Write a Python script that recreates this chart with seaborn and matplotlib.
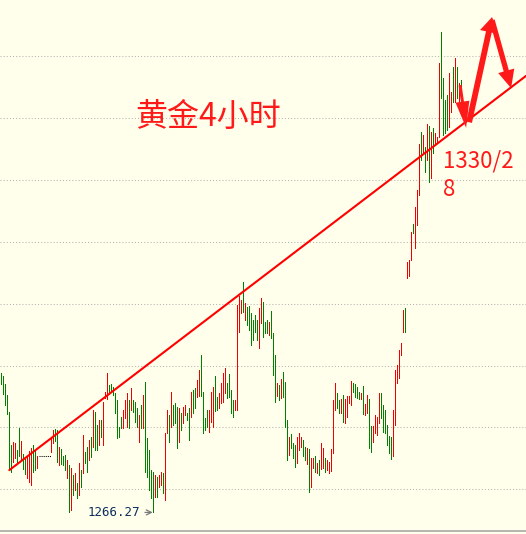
import numpy as np
import pandas as pd
import seaborn as sns
import matplotlib.pyplot as plt

# 4h gold bars (USD). nan = the gap marked by the dotted line
highs = [1288.8, 1288.3, 1287.0, 1285.2, 1282.5, 1277.2, 1277.6, 1277.5, 1276.3, 1279.9,
         1277.8, 1275.7, 1275.2, 1275.4, 1276.2, 1276.7, 1277.2, 1276.3, 1275.4, np.nan,
         np.nan, np.nan, np.nan, np.nan, np.nan, 1278.3, 1279.6, 1279.7, 1279.6, 1276.8,
         1276.5, 1275.4, 1275.5, 1274.7, 1273.9, 1273.5, 1272.3, 1272.6, 1271.0, 1274.3,
         1273.1, 1278.8, 1276.0, 1276.8, 1278.0, 1278.5, 1282.8, 1282.5, 1280.4, 1281.2,
         1281.2, 1284.1, 1285.7, 1288.8, 1286.8, 1287.0, 1286.5, 1285.5, 1284.4, 1280.1,
         1281.7, 1282.8, 1284.4, 1285.5, 1284.4, 1286.3, 1284.4, 1284.1, 1283.1, 1282.0,
         1283.6, 1285.2, 1287.3, 1278.3, 1276.3, 1273.1, 1272.8, 1272.3, 1272.0, 1272.3,
         1272.8, 1272.6, 1279.1, 1282.8, 1282.0, 1285.7, 1283.6, 1283.9, 1283.3, 1283.1,
         1282.3, 1283.3, 1283.6, 1282.3, 1283.1, 1285.7, 1286.0, 1286.3, 1287.7, 1289.3,
         1291.7, 1285.7, 1281.5, 1282.8, 1282.8, 1285.7, 1286.5, 1288.3, 1284.9, 1285.5,
         1287.2, 1288.8, 1289.6, 1287.2, 1288.6, 1286.0, 1284.4, 1284.4, 1299.8, 1301.2,
         1300.6, 1303.5, 1300.1, 1299.5, 1299.6, 1298.5, 1297.4, 1298.2, 1297.4, 1299.3,
         1300.9, 1300.3, 1297.0, 1297.4, 1297.0, 1298.8, 1295.2, 1291.7, 1287.2, 1286.8,
         1287.8, 1289.0, 1287.3, 1281.2, 1278.5, 1278.9, 1277.5, 1277.2, 1278.5, 1279.1,
         1278.5, 1278.0, 1276.8, 1276.7, 1276.5, 1275.0, 1275.0, 1275.4, 1274.3, 1274.7,
         1277.5, 1276.7, 1275.0, 1274.7, 1274.4, 1276.5, 1284.4, 1287.2, 1285.5, 1284.4,
         1284.6, 1285.2, 1284.6, 1285.0, 1285.0, 1287.5, 1287.2, 1287.0, 1286.5, 1285.7,
         1285.5, 1286.7, 1283.8, 1285.2, 1284.6, 1280.2, 1280.2, 1282.0, 1281.7, 1285.5,
         1285.5, 1283.6, 1282.8, 1280.4, 1278.6, 1278.5, 1282.8, 1289.3, 1290.1, 1292.5,
         1293.6, 1299.0, 1299.3, 1306.7, 1307.0, 1311.5, 1312.8, 1315.6, 1318.3, 1325.8,
         1327.7, 1327.2, 1325.3, 1329.0, 1328.7, 1327.7, 1328.4, 1327.6, 1326.9, 1338.9,
         1343.9, 1336.4, 1332.9, 1333.7, 1337.3, 1334.2, 1338.2, 1339.7, 1338.2, 1335.6,
         1336.1]
lows = [1287.0, 1285.4, 1283.6, 1282.2, 1273.1, 1272.8, 1274.4, 1275.0, 1274.3, 1275.4,
        1274.7, 1273.3, 1272.5, 1271.8, 1271.2, 1270.7, 1272.8, 1273.1, 1273.5, np.nan,
        np.nan, np.nan, np.nan, np.nan, np.nan, 1276.0, 1277.5, 1277.8, 1274.4, 1273.9,
        1274.1, 1273.9, 1273.1, 1271.8, 1266.3, 1266.7, 1269.1, 1269.9, 1268.6, 1269.1,
        1270.4, 1272.6, 1274.3, 1272.8, 1274.7, 1275.2, 1276.8, 1276.3, 1276.3, 1277.2,
        1278.5, 1277.2, 1284.7, 1284.6, 1285.5, 1285.7, 1285.2, 1282.3, 1278.3, 1278.5,
        1279.9, 1279.9, 1281.5, 1280.1, 1279.9, 1282.8, 1282.5, 1280.9, 1280.1, 1277.6,
        1279.9, 1279.9, 1272.8, 1272.0, 1269.9, 1268.6, 1266.27, 1268.8, 1268.8, 1270.4,
        1270.7, 1269.4, 1268.3, 1279.1, 1277.6, 1280.1, 1280.4, 1280.7, 1276.7, 1277.6,
        1279.6, 1280.7, 1282.0, 1281.2, 1278.0, 1281.7, 1282.3, 1283.1, 1284.9, 1285.0,
        1285.0, 1279.1, 1279.6, 1280.1, 1279.2, 1280.9, 1280.1, 1282.7, 1282.8, 1283.1,
        1283.9, 1284.1, 1285.5, 1284.7, 1284.9, 1282.3, 1281.7, 1282.8, 1282.8, 1295.4,
        1298.5, 1298.6, 1297.4, 1296.5, 1295.7, 1293.3, 1294.1, 1295.4, 1294.1, 1292.8,
        1296.9, 1294.6, 1295.2, 1295.2, 1294.9, 1294.4, 1288.5, 1284.1, 1285.0, 1284.4,
        1284.7, 1284.9, 1280.1, 1274.7, 1275.5, 1276.7, 1275.0, 1273.6, 1274.3, 1276.3,
        1276.8, 1275.4, 1274.7, 1274.1, 1269.6, 1270.4, 1273.5, 1272.8, 1272.6, 1272.3,
        1273.3, 1273.5, 1272.8, 1273.1, 1272.6, 1273.0, 1275.9, 1282.8, 1283.1, 1282.3,
        1282.3, 1280.9, 1280.7, 1281.7, 1283.9, 1283.6, 1285.7, 1284.9, 1284.7, 1284.6,
        1284.6, 1282.2, 1282.0, 1282.3, 1276.7, 1276.0, 1277.6, 1279.1, 1278.8, 1280.7,
        1281.5, 1279.2, 1279.1, 1277.2, 1275.9, 1274.9, 1275.4, 1280.4, 1287.2, 1288.0,
        1291.7, 1295.4, 1295.4, 1304.1, 1304.5, 1307.0, 1311.4, 1309.0, 1312.7, 1317.5,
        1323.2, 1324.3, 1321.3, 1323.2, 1319.6, 1320.3, 1324.3, 1325.6, 1326.0, 1326.9,
        1333.2, 1327.2, 1327.6, 1328.0, 1328.5, 1331.0, 1332.6, 1332.6, 1333.2, 1331.3,
        1332.9]
# r = up bar, g = down bar, - = no bar
bar_dir = ("ggggggrrgg" "rggrrrggr-" "-----rrggr" "gggrgrgrgr" "grggrgrggr"
           "grrrgggggg" "grrrgrgggr" "grgggggrgr" "rgrrgrgggr" "grrggrggrr"
           "ggggrrrggr" "rrrggggrrr" "rgrggggggr" "rgggrgggrg" "rgggrgggrr"
           "rggrgrrgrg" "rrgrrrrrgg" "rgrrrrgggg" "rgrrggrrrr" "ggggggrrrr"
           "rrgrrrgrrr" "grgrgrgrrr" "ggggrrgrgr" "g")

grid_levels = [1270, 1280, 1290, 1300, 1310, 1320, 1330, 1340]
gap_level = 1275.4
low_label = 1266.27
trend_x = [4.0, 262.4]
trend_y = [1273.1, 1336.8]

df = pd.DataFrame({"high": highs, "low": lows, "dir": list(bar_dir)})
df["bar"] = np.arange(len(df))

RED = "#ff1a1a"
BAR_COLORS = {"r": "#f00000", "g": "#008000", "-": "none"}

sns.set_style("white", rc={"axes.facecolor": "#ffffec", "figure.facecolor": "#ffffec"})
plt.rcParams["font.family"] = ["Noto Sans CJK SC", "DejaVu Sans"]

fig = plt.figure(figsize=(5.26, 5.34), dpi=100)
ax = fig.add_axes([0, 3.5 / 534, 1, 530.5 / 534])

bars = df.dropna()
ax.vlines(bars["bar"], bars["low"], bars["high"],
          colors=[BAR_COLORS[d] for d in bars["dir"]], lw=0.5, antialiased=False)

# dotted marker over the missing bars
ax.hlines(gap_level, 18.6, 24.9, colors="black", linestyles=(0, (1, 1)), lw=0.75)

sns.lineplot(x=trend_x, y=trend_y, color="#ff0000", lw=1.5, ax=ax)

ax.set_xlim(-0.65, 262.35)
ax.set_ylim(1263.35, 1349.05)
ax.set_yticks(grid_levels)
ax.set_xticks([])
ax.yaxis.grid(True, linestyle=(0, (1, 2)), color="#b4b4b4", lw=0.75)
ax.tick_params(length=0, labelleft=False)
for s in ["top", "left", "right"]:
    ax.spines[s].set_visible(False)
ax.spines["bottom"].set_color("#a8a8a8")
ax.spines["bottom"].set_linewidth(1.2)

# lowest low label
low_bar = df["low"].idxmin()
ax.annotate("1266.27", xy=(low_bar - 0.3, low_label), xytext=(69.5, low_label),
            ha="right", va="center", fontsize=9, color="#0b2d5c", family="DejaVu Sans Mono",
            arrowprops=dict(arrowstyle="->", color="#7a7a7a", lw=0.9, shrinkA=1, shrinkB=0))

# hand drawn arrows
arrows = [((229.4, 1335.3), (232.4, 1328.4), "simple,head_width=1.0,head_length=1.9,tail_width=0.22"),
          ((233.9, 1329.3), (245.4, 1346.3), "simple,head_width=1.3,head_length=1.1,tail_width=0.42"),
          ((245.4, 1345.8), (254.9, 1334.8), "simple,head_width=1.2,head_length=1.3,tail_width=0.38")]
for start, end, style in arrows:
    ax.annotate("", xy=end, xytext=start,
                arrowprops=dict(arrowstyle=style, color=RED, lw=0, shrinkA=0, shrinkB=0,
                                mutation_scale=10))

fig.text(135 / 526, 1 - 117 / 534, "黄金4小时", fontsize=23, color=RED, ha="left", va="center")
fig.text(443 / 526, 1 - 161 / 534, "1330/2", fontsize=16, color=RED, ha="left", va="center")
fig.text(443 / 526, 1 - 190 / 534, "8", fontsize=16, color=RED, ha="left", va="center")

fig.savefig("out.png", dpi=100, facecolor=fig.get_facecolor())
